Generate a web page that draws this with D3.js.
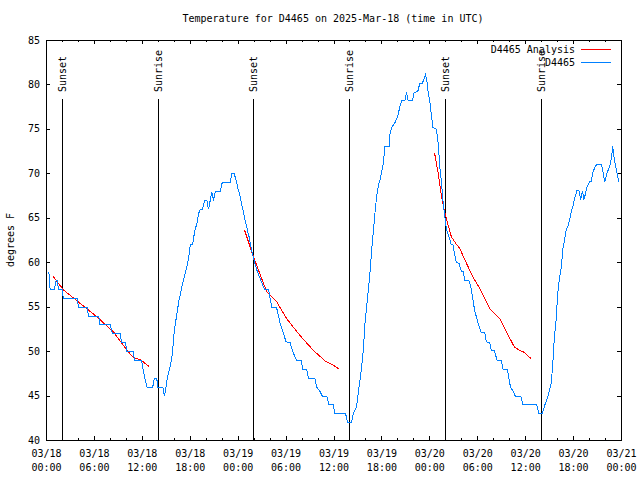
<!DOCTYPE html>
<html><head><meta charset="utf-8">
<script src="https://cdn.jsdelivr.net/npm/d3@7"></script>
<style>
html,body{margin:0;padding:0;background:#fff;}
svg text{font-family:"DejaVu Sans Mono","Liberation Mono",monospace;font-size:10px;fill:#000;}
</style></head>
<body><svg id="c" width="640" height="480"></svg>
<script>
const titleText = "Temperature for D4465 on 2025-Mar-18 (time in UTC)";
const yLabelText = "degrees F";
const startISO = "2025-03-18T00:00:00Z";
const endISO = "2025-03-21T00:00:00Z";
const yTicks = [40,45,50,55,60,65,70,75,80,85];
const seriesNames = ["D4465 Analysis","D4465"];
const seriesColors = ["#ff0000","#0080ff"];

// Observed temperature: hours since 03/18 00:00 UTC, degrees F
const obsHours = [0.29,0.45,1.0,1.2,1.35,1.5,1.96,2.1,3.83,4.0,5.08,5.25,6.54,6.7,8.0,8.25,9.25,9.4,9.9,10.05,10.9,11.0,11.9,12.1,12.3,12.6,13.3,13.5,13.8,13.95,14.58,14.75,14.9,15.08,15.3,15.5,15.7,15.83,16.0,16.2,16.4,16.6,16.83,17.04,17.25,17.46,17.67,17.88,18.0,18.3,18.4,18.6,18.83,19.04,19.25,19.54,19.79,20.08,20.29,20.5,20.7,20.9,21.13,21.75,22.0,23.0,23.2,23.5,23.75,23.96,24.2,24.4,24.6,24.8,25.0,25.2,25.4,25.6,25.92,26.33,26.75,27.3,27.8,28.2,28.8,29.25,30.0,30.5,30.83,31.33,31.9,32.08,32.58,32.8,33.6,33.83,34.25,34.54,35.08,35.38,35.9,36.1,37.46,37.7,38.2,38.4,38.83,39.04,39.25,39.46,39.67,39.88,40.08,40.3,40.5,40.7,40.9,41.13,41.33,41.54,41.75,41.96,42.17,42.38,42.9,43.0,43.2,43.6,44.0,44.25,44.46,44.88,45.08,45.3,45.83,46.0,46.5,46.75,47.08,47.46,47.67,47.8,48.0,48.2,48.4,48.83,49.04,49.25,49.46,49.67,49.88,50.08,50.5,50.7,50.9,51.1,51.3,51.67,51.96,52.17,52.38,52.9,53.2,53.4,53.6,53.83,54.04,54.46,54.88,55.08,55.5,55.7,56.1,56.42,56.96,57.17,57.7,57.9,58.1,58.4,58.7,59.4,59.67,61.4,61.67,62.08,62.4,62.8,63.2,63.4,63.6,63.8,64.0,64.25,64.46,64.67,64.88,65.08,65.3,65.5,65.7,65.9,66.1,66.42,66.67,66.9,67.1,67.3,67.5,67.7,68.0,68.2,68.4,68.6,68.9,69.5,69.7,69.9,70.2,70.4,70.6,70.8,70.9,71.1,71.4,71.67];
const obsTempF = [59,57,57,58,58,57,57,56,56,55,55,54,54,53,53,52,52,51,51,50,50,49,49,48,47,46,46,47,47,46,46,45,45.6,46.8,47.7,48.4,49.4,50.5,52.4,53.5,54.7,55.8,56.7,57.7,58.4,59.2,59.9,61,62,62,62.7,63.7,64.4,65.5,66,66,67,67,66,67,68,67,68,68,69,69,70,70,69.3,68.4,67.6,66.7,66,65,64.3,63.5,62.8,61.8,60.5,59.2,58.2,57,57,55,55,53.2,51.1,51,50,49,49,48,48,47,47,46,45.5,45,45,44,44,43,43,42,42,43,43.8,45.3,46.8,48.3,50.2,53.2,55,56.9,58.8,61.2,63.3,65.6,67.4,68.6,69.3,70.1,71.2,73.1,73.1,74.4,75.2,75.7,76.5,77.6,78.2,78.2,79.2,78.2,78.2,79.1,79.3,80.2,80.2,81.2,80.2,79.1,78.2,76.5,75.2,75,73.5,70.8,69,66.7,65.2,63.8,62.6,62,62,61,60.1,59.9,59,59,58,58,57,55.8,54.7,53.9,53.2,52.1,52.1,51.1,51,50.1,50.1,49,49,48,48,47,46,45.6,45,45,44,44,43,43,44,45,46.4,48.7,51.7,53.4,56.4,58.4,59.5,61.6,62.6,63.7,64.1,64.8,65.7,66.3,67.1,68.1,68.1,67.1,68.1,67.1,67.8,68.6,69.1,69.1,70.1,70.6,71.1,71.1,70.1,69.1,70.1,70.6,71.1,72.2,73.1,71.6,70.3,69.1];

// Analysis temperature (null = gap between nightly runs)
const anaHours = [0.79,2.17,6.33,8.4,10.08,10.9,11.75,12.8,null,24.79,25.9,27.58,28.83,30.08,31.75,33.4,34.9,35.9,36.67,null,48.6,49.04,49.46,49.88,50.3,50.7,51.3,51.75,52.6,53.4,54.25,55.5,56.75,57.6,58.6,59.25,59.75,60.7];
const anaTempF = [58.5,56.9,53.9,52.2,50.15,49.3,49.1,48.35,null,63.7,60.7,56.7,55.6,53.7,51.8,50.15,48.95,48.5,48.0,null,72.3,70.1,67.4,65.6,64.2,62.9,62.1,61.6,59.9,58.4,57.1,54.85,53.7,52.2,50.5,50.15,49.95,49.2];

const eventTimes = ["2025-03-18T02:00:00Z","2025-03-18T14:01:00Z","2025-03-19T01:54:00Z","2025-03-19T13:55:00Z","2025-03-20T01:55:00Z","2025-03-20T13:57:00Z"];
const eventLabels = ["Sunset","Sunrise","Sunset","Sunrise","Sunset","Sunrise"];

const svg = d3.select("#c");
const L = 46, R = 621, T = 40, B = 440;
const t0 = new Date(startISO), t1 = new Date(endISO);
const x = d3.scaleUtc().domain([t0, t1]).range([L, R]);
const y = d3.scaleLinear().domain([40, 85]).range([B, T]);
const hToDate = h => new Date(t0.getTime() + h * 3600000);

// title
svg.append("text").attr("x", 333).attr("y", 19).attr("text-anchor", "middle")
  .attr("dominant-baseline", "middle").text(titleText);
// y label
svg.append("text").attr("transform", "translate(11,240) rotate(-90)")
  .attr("text-anchor", "middle").attr("dominant-baseline", "middle").text(yLabelText);

// axes
const minorTicks = d3.utcHour.every(2).range(t0, d3.utcHour.offset(t1, 1));
const majorTicks = d3.utcHour.every(6).range(t0, d3.utcHour.offset(t1, 1));
const fmtD = d3.utcFormat("%m/%d"), fmtT = d3.utcFormat("%H:%M");

const gB = svg.append("g").attr("transform", `translate(0,${B})`)
  .call(d3.axisBottom(x).tickValues(minorTicks).tickSizeInner(-2).tickSizeOuter(0).tickFormat(""));
const gB2 = svg.append("g").attr("transform", `translate(0,${B})`)
  .call(d3.axisBottom(x).tickValues(majorTicks).tickSizeInner(-4).tickSizeOuter(0).tickPadding(9)
    .tickFormat(d => fmtD(d)));
gB2.selectAll(".tick text").each(function(d){
  const t = d3.select(this); t.text(null).attr("dy", null).attr("y", 14);
  t.append("tspan").attr("x", 0).attr("y", 14).attr("dominant-baseline","middle").text(fmtD(d));
  t.append("tspan").attr("x", 0).attr("y", 28).attr("dominant-baseline","middle").text(fmtT(d));
});
const gT = svg.append("g").attr("transform", `translate(0,${T})`)
  .call(d3.axisTop(x).tickValues(minorTicks).tickSizeInner(-2).tickSizeOuter(0).tickFormat(""));
const gT2 = svg.append("g").attr("transform", `translate(0,${T})`)
  .call(d3.axisTop(x).tickValues(majorTicks).tickSizeInner(-4).tickSizeOuter(0).tickFormat(""));
const gL = svg.append("g").attr("transform", `translate(${L},0)`)
  .call(d3.axisLeft(y).tickValues(yTicks).tickSizeInner(-4).tickSizeOuter(0).tickPadding(6).tickFormat(d3.format("d")));
gL.selectAll(".tick text").attr("dy", null).attr("dominant-baseline", "middle").attr("x", -6);
const gR = svg.append("g").attr("transform", `translate(${R},0)`)
  .call(d3.axisRight(y).tickValues(yTicks).tickSizeInner(-4).tickSizeOuter(0).tickFormat(""));
svg.selectAll(".domain").remove();
svg.selectAll(".tick line").attr("stroke", "#000").attr("shape-rendering", "crispEdges");
svg.selectAll(".tick text").attr("font-family", null).attr("font-size", null).attr("fill", "#000");
svg.selectAll("g").attr("font-family", null).attr("font-size", null);

// frame
svg.append("rect").attr("x", L + 0.5).attr("y", T + 0.5).attr("width", R - L).attr("height", B - T)
  .attr("fill", "none").attr("stroke", "#000").attr("shape-rendering", "crispEdges");

// sunrise / sunset markers
eventTimes.forEach((s, i) => {
  const px = Math.round(x(new Date(s))) + 0.5;
  svg.append("line").attr("x1", px).attr("x2", px).attr("y1", 99).attr("y2", B + 0.5)
    .attr("stroke", "#000").attr("shape-rendering", "crispEdges");
  svg.append("text").attr("transform", `translate(${px + 0.5},92) rotate(-90)`)
    .attr("text-anchor", "start").attr("dominant-baseline", "middle").text(eventLabels[i]);
});

// data lines
const plot = svg.append("g").attr("transform", "translate(0.5,0.5)");
const obs = obsHours.map((h, i) => ({t: hToDate(h), v: obsTempF[i]}));
const ana = anaHours.map((h, i) => ({t: h == null ? null : hToDate(h), v: anaTempF[i]}));
const line = d3.line().defined(d => d.t != null && d.v != null).x(d => x(d.t)).y(d => y(d.v));
plot.append("path").attr("d", line(ana)).attr("fill", "none").attr("stroke", seriesColors[0])
  .attr("stroke-width", 1).attr("shape-rendering", "crispEdges");
plot.append("path").attr("d", line(obs)).attr("fill", "none").attr("stroke", seriesColors[1])
  .attr("stroke-width", 1).attr("shape-rendering", "crispEdges");

// legend
seriesNames.forEach((n, i) => {
  const ly = 49.5 + i * 13;
  svg.append("text").attr("x", 575).attr("y", ly).attr("text-anchor", "end")
    .attr("dominant-baseline", "middle").text(n);
  svg.append("line").attr("x1", 581).attr("x2", 611).attr("y1", ly).attr("y2", ly)
    .attr("stroke", seriesColors[i]).attr("shape-rendering", "crispEdges");
});
</script></body></html>
